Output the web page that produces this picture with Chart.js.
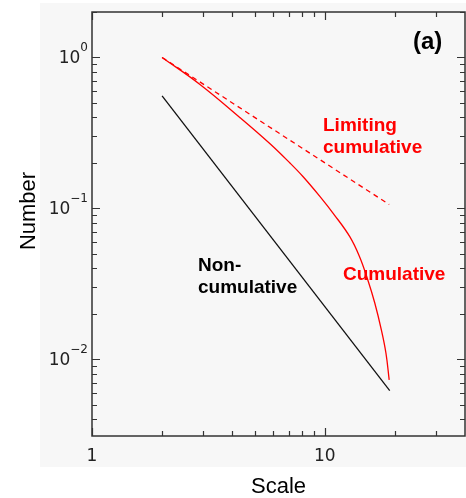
<!DOCTYPE html>
<html lang="en">
<head>
    <meta charset="UTF-8">
    <title>Scale vs Number</title>
    <script src="https://cdn.jsdelivr.net/npm/chart.js"></script>
    <style>
        html, body { margin: 0; padding: 0; background: #fff; }
        #wrap { width: 466px; height: 498px; position: relative; }
    </style>
</head>
<body>
    <div id="wrap"><canvas id="myChart"></canvas></div>

    <script>
        // values
        const scaleNon = [2.0, 19.0];
        const numberNon = [0.557, 0.0062];

        const scaleLim = [2.0, 18.9];
        const numberLim = [1.0, 0.106];

        const scaleCum = [2.0, 2.9, 4.3, 5.8, 7.1, 8.07, 9.52, 11.0, 12.8, 14.1, 15.3, 16.4, 17.5, 18.3, 18.9];
        const numberCum = [1.0, 0.665, 0.402, 0.269, 0.199, 0.162, 0.120, 0.0903, 0.0649, 0.0478, 0.0335, 0.0235, 0.0156, 0.0110, 0.0073];

        const xTicks = [1, 2, 3, 4, 5, 6, 7, 8, 9, 10, 20, 30];
        const xLabels = { 1: '1', 10: '10' };
        const yMajor = [1, 0.1, 0.01];
        const yLabels = ['0', '\u22121', '\u22122'];

        const pts = (xs, ys) => xs.map((x, i) => ({ x: x, y: ys[i] }));

        const axesPlugin = {
            id: 'idlAxes',
            beforeDraw(chart) {
                const c = chart.ctx;
                c.save();
                c.fillStyle = '#ffffff';
                c.fillRect(0, 0, chart.width, chart.height);
                c.fillStyle = '#f7f7f7';
                c.fillRect(40, 3, chart.width - 40, 464);
                c.restore();
            },
            afterDraw(chart) {
                const c = chart.ctx;
                const a = chart.chartArea;
                const xs = chart.scales.x, ys = chart.scales.y;
                c.save();
                c.strokeStyle = '#333';
                c.lineWidth = 1.5;
                c.strokeRect(a.left, a.top, a.right - a.left, a.bottom - a.top);

                c.lineWidth = 1.2;
                c.beginPath();
                xTicks.forEach(v => {
                    const px = Math.round(xs.getPixelForValue(v)) + 0.5;
                    const len = (v === 1 || v === 10) ? 8 : 5;
                    c.moveTo(px, a.bottom); c.lineTo(px, a.bottom - len);
                    c.moveTo(px, a.top); c.lineTo(px, a.top + len);
                });
                for (let k = -3; k <= 0; k++) {
                    for (let m = 1; m <= 9; m++) {
                        const v = m * Math.pow(10, k);
                        if (v < ys.min || v > ys.max) continue;
                        const py = Math.round(ys.getPixelForValue(v)) + 0.5;
                        const len = m === 1 ? 8 : 5;
                        c.moveTo(a.left, py); c.lineTo(a.left + len, py);
                        c.moveTo(a.right, py); c.lineTo(a.right - len, py);
                    }
                }
                c.stroke();

                // tick labels
                c.fillStyle = '#222';
                c.font = '17px "DejaVu Sans"';
                c.textAlign = 'center';
                c.textBaseline = 'alphabetic';
                Object.keys(xLabels).forEach(v => {
                    c.fillText(xLabels[v], xs.getPixelForValue(+v), a.bottom + 25);
                });
                yMajor.forEach((v, i) => {
                    const py = ys.getPixelForValue(v);
                    c.font = '12px "DejaVu Sans"';
                    c.textAlign = 'right';
                    const sup = yLabels[i];
                    const supW = c.measureText(sup).width;
                    c.fillText(sup, a.left - 4, py - 6);
                    c.font = '17px "DejaVu Sans"';
                    c.fillText('10', a.left - 4 - supW, py + 6);
                });

                // axis titles
                c.fillStyle = '#000';
                c.font = '22px "Liberation Sans"';
                c.textAlign = 'center';
                c.fillText('Scale', (a.left + a.right) / 2 + 0, 493);
                c.save();
                c.translate(35, 211);
                c.rotate(-Math.PI / 2);
                c.fillText('Number', 0, 0);
                c.restore();

                // annotations
                c.textAlign = 'left';
                c.font = 'bold 24px "Liberation Sans"';
                c.fillText('(a)', 413, 49);
                c.font = 'bold 19px "Liberation Sans"';
                c.fillText('Non-', 198, 271);
                c.fillText('cumulative', 198, 293);
                c.fillStyle = '#ff0000';
                c.fillText('Limiting', 323, 131);
                c.fillText('cumulative', 323, 153);
                c.fillText('Cumulative', 343, 280);
                c.restore();
            }
        };

        const ctx = document.getElementById('myChart').getContext('2d');
        const myChart = new Chart(ctx, {
            type: 'line',
            data: {
                datasets: [
                    {
                        label: 'Non-cumulative',
                        data: pts(scaleNon, numberNon),
                        borderColor: '#111',
                        borderWidth: 1.3,
                        pointRadius: 0
                    },
                    {
                        label: 'Limiting cumulative',
                        data: pts(scaleLim, numberLim),
                        borderColor: '#ff0000',
                        borderWidth: 1.3,
                        borderDash: [5, 4],
                        pointRadius: 0
                    },
                    {
                        label: 'Cumulative',
                        data: pts(scaleCum, numberCum),
                        borderColor: '#ff0000',
                        borderWidth: 1.3,
                        tension: 0.4,
                        pointRadius: 0
                    }
                ]
            },
            options: {
                responsive: true,
                maintainAspectRatio: false,
                animation: false,
                layout: { padding: { left: 92, top: 12, right: 1, bottom: 62 } },
                plugins: {
                    legend: { display: false },
                    tooltip: { enabled: false }
                },
                scales: {
                    x: { type: 'logarithmic', min: 1, max: 40, display: false },
                    y: { type: 'logarithmic', min: 0.0031, max: 2, display: false }
                }
            },
            plugins: [axesPlugin]
        });
    </script>
</body>
</html>
